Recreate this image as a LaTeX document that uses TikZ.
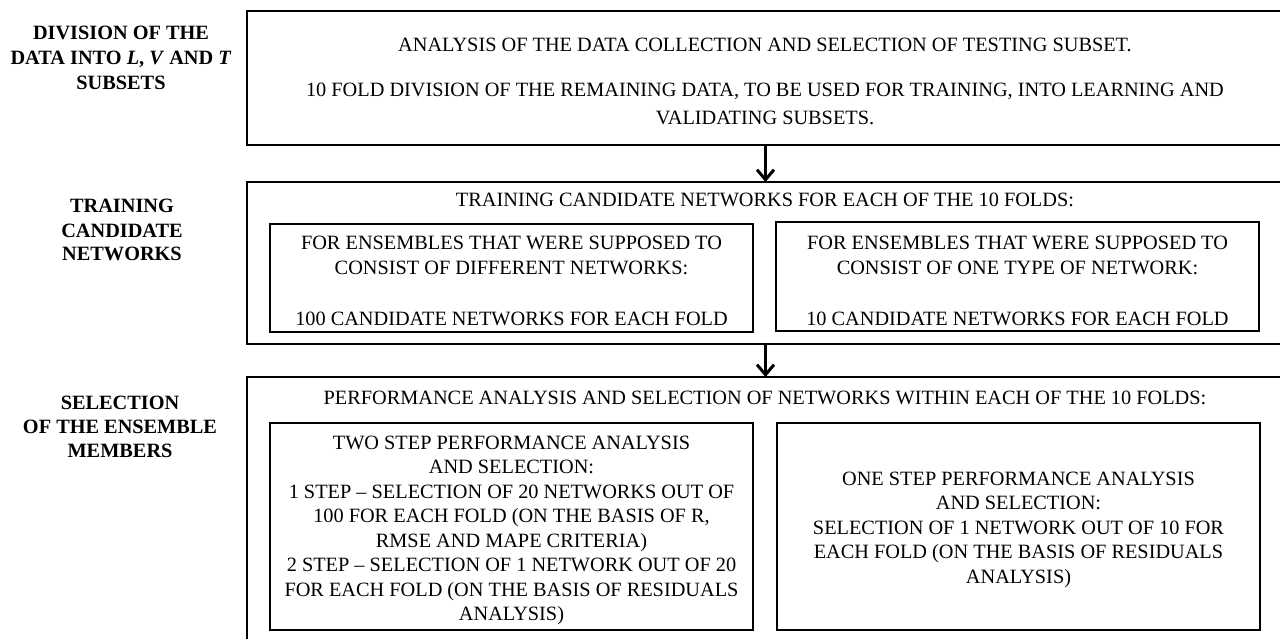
\documentclass[tikz,border=0pt]{standalone}
\usepackage{fontspec}
\setmainfont{Liberation Serif}
\usetikzlibrary{arrows.meta,calc}
\begin{document}
\begin{tikzpicture}[x=1pt,y=-1pt,
  obox/.style={draw=black, line width=2pt, anchor=north west, inner sep=0pt, outer sep=0pt},
  ibox/.style={draw=black, line width=2pt, anchor=north west, inner sep=0pt, outer sep=0pt},
  txt/.style={anchor=base, inner sep=0pt, font=\fontsize{20.3}{25}\selectfont},
  lbl/.style={anchor=base, inner sep=0pt, font=\fontsize{20.3}{25}\selectfont\bfseries},
  arr/.style={line width=3pt, -{Straight Barb[length=10pt,width=17pt]}}]
\useasboundingbox (0,0) rectangle (1280,639);
\fill[white] (0,0) rectangle (1280,639);
% outer boxes
\node[obox, minimum width=1037pt, minimum height=134pt] (b1) at (247,11) {};
\node[obox, minimum width=1037pt, minimum height=162pt] (b2) at (247,182) {};
\node[obox, minimum width=1037pt, minimum height=290pt] (b3) at (247,377) {};
% inner boxes
\node[ibox, minimum width=483pt, minimum height=108pt] (l2) at (270,224) {};
\node[ibox, minimum width=483pt, minimum height=109pt] (r2) at (776,222) {};
\node[ibox, minimum width=483pt, minimum height=207pt] (l3) at (270,423) {};
\node[ibox, minimum width=483pt, minimum height=207pt] (r3) at (777,423) {};
% arrows
\draw[arr] (b1.south) -- (b2.north);
\draw[arr] (b2.south) -- (b3.north);
% left labels
\node[lbl] (la1) at (121,40) {DIVISION OF THE};
\node[lbl] (la2) at (121,65) {DATA INTO \textit{L}, \textit{V} AND \textit{T}};
\node[lbl] (la3) at (121,90) {SUBSETS};
\node[lbl] (lb1) at (122,213) {TRAINING};
\node[lbl] (lb2) at (122,237) {CANDIDATE};
\node[lbl] (lb3) at (122,261) {NETWORKS};
\node[lbl] (lc1) at (120,409) {SELECTION};
\node[lbl] (lc2) at (120,433) {OF THE ENSEMBLE};
\node[lbl] (lc3) at (120,457) {MEMBERS};
% box 1 text
\node[txt] (t11) at (765,52) {ANALYSIS OF THE DATA COLLECTION AND SELECTION OF TESTING SUBSET.};
\node[txt] (t12) at (765,97) {10 FOLD DIVISION OF THE REMAINING DATA, TO BE USED FOR TRAINING, INTO LEARNING AND};
\node[txt] (t13) at (765,125) {VALIDATING SUBSETS.};
% box 2 text
\node[txt] (t21) at (765,207) {TRAINING CANDIDATE NETWORKS FOR EACH OF THE 10 FOLDS:};
\node[txt] (l2a) at (l2.north |- 0,250) {FOR ENSEMBLES THAT WERE SUPPOSED TO};
\node[txt] (l2b) at (l2.north |- 0,275) {CONSIST OF DIFFERENT NETWORKS:};
\node[txt] (l2c) at (l2.north |- 0,325) {100 CANDIDATE NETWORKS FOR EACH FOLD};
\node[txt] (r2a) at (r2.north |- 0,250) {FOR ENSEMBLES THAT WERE SUPPOSED TO};
\node[txt] (r2b) at (r2.north |- 0,275) {CONSIST OF ONE TYPE OF NETWORK:};
\node[txt] (r2c) at (r2.north |- 0,325) {10 CANDIDATE NETWORKS FOR EACH FOLD};
% box 3 text
\node[txt] (t31) at (765,404) {PERFORMANCE ANALYSIS AND SELECTION OF NETWORKS WITHIN EACH OF THE 10 FOLDS:};
\foreach \t [count=\i] in {TWO STEP PERFORMANCE ANALYSIS, AND SELECTION:,
  1 STEP -- SELECTION OF 20 NETWORKS OUT OF, {100 FOR EACH FOLD (ON THE BASIS OF R,},
  RMSE AND MAPE CRITERIA), 2 STEP -- SELECTION OF 1 NETWORK OUT OF 20,
  FOR EACH FOLD (ON THE BASIS OF RESIDUALS, ANALYSIS)}
  \node[txt] (l3\i) at ($(l3.north) + (0,{1.5+24.5*\i})$) {\t};
\foreach \t [count=\i] in {ONE STEP PERFORMANCE ANALYSIS, AND SELECTION:,
  SELECTION OF 1 NETWORK OUT OF 10 FOR, EACH FOLD (ON THE BASIS OF RESIDUALS,
  ANALYSIS)}
  \node[txt] (r3\i) at ($(r3.north) + (0,{37.5+24.5*\i})$) {\t};
\end{tikzpicture}
\end{document}
